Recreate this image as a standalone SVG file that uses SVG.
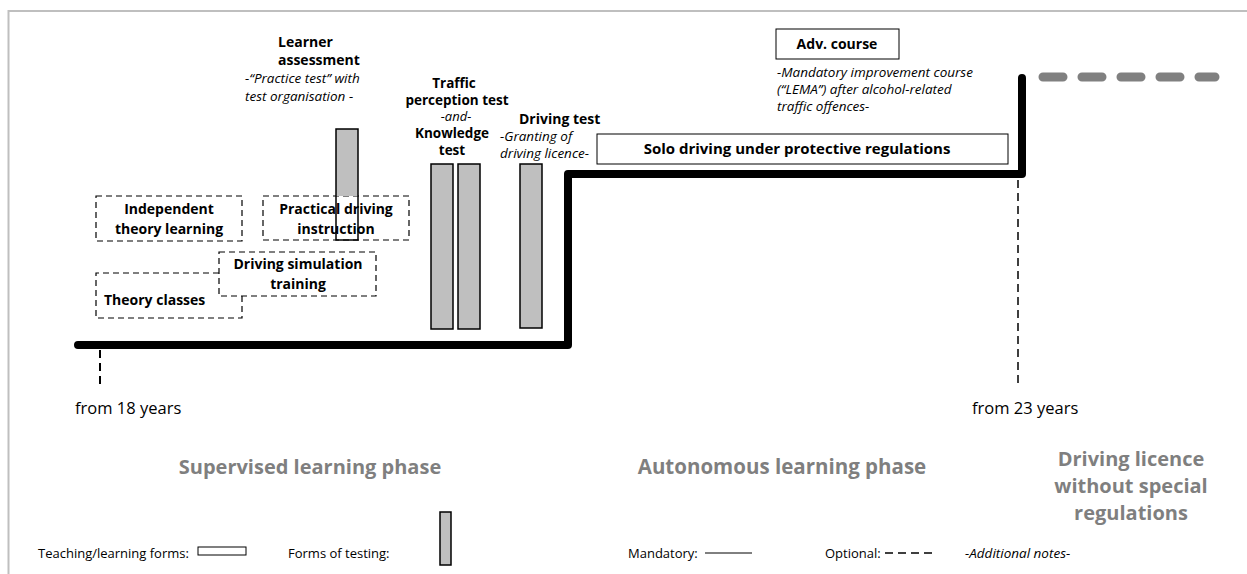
<svg xmlns="http://www.w3.org/2000/svg" width="1247" height="574" viewBox="0 0 1247 574">
<style>
text{font-family:"Open Sans","Noto Sans",sans-serif;fill:#000}
.b{font-weight:bold;font-size:14px}
.i{font-style:italic;font-size:13.5px}
.n{font-size:13px}
.age{font-size:16.5px}
.ph{font-weight:bold;font-size:20px;fill:#7f7f7f}
.opt{fill:none;stroke:#000;stroke-width:1.2;stroke-dasharray:6 4}
.test{fill:#bfbfbf;stroke:#000;stroke-width:1.5}
.teach{fill:#fff;stroke:#000;stroke-width:1}
</style>
<rect width="1247" height="574" fill="#fff"/>
<path d="M8.5 574 V11 H1247" fill="none" stroke="#bfbfbf" stroke-width="2"/>

<g id="connectors">
<path d="M78 345 H568 V174 H1022 V78" fill="none" stroke="#000" stroke-width="8" stroke-linejoin="round" stroke-linecap="round"/>
<path d="M1043 77 H1215" fill="none" stroke="#808080" stroke-width="9" stroke-linecap="round" stroke-dasharray="20 19"/>
<path d="M100 350 V388" stroke="#000" stroke-width="2" stroke-dasharray="8 5"/>
<path d="M1018 180 V386" stroke="#000" stroke-width="1.5" stroke-dasharray="8 5"/>
</g>

<g id="independent-theory">
<rect x="96" y="196" width="146" height="45" class="opt" stroke-dasharray="5 4"/>
<text class="b" x="169" y="214" text-anchor="middle">Independent</text>
<text class="b" x="169" y="234" text-anchor="middle">theory learning</text>
</g>
<g id="theory-classes">
<path d="M219 273 H96 V318 H242 V296" class="opt"/>
<text class="b" x="104" y="305">Theory classes</text>
</g>
<g id="simulation">
<rect x="219" y="252" width="157" height="44" class="opt"/>
<text class="b" x="298" y="269" text-anchor="middle">Driving simulation</text>
<text class="b" x="298" y="289" text-anchor="middle">training</text>
</g>
<g id="practical">
<rect x="263" y="196" width="146" height="44" class="opt" stroke-dasharray="9 5"/>
<text class="b" x="336" y="214" text-anchor="middle">Practical driving</text>
<text class="b" x="336" y="234" text-anchor="middle">instruction</text>
</g>

<g id="learner-assessment">
<rect x="336" y="129" width="22" height="67" fill="#bfbfbf"/>
<rect x="336" y="129" width="22" height="111" fill="none" stroke="#000" stroke-width="1.5"/>
<text class="b" x="278" y="47">Learner</text>
<text class="b" x="278" y="65">assessment</text>
<text class="i" x="245" y="83">-“Practice test” with</text>
<text class="i" x="245" y="101">test organisation -</text>
</g>

<g id="traffic-knowledge" style="font-size:13.5px">
<rect x="431" y="164" width="22" height="165" class="test"/>
<rect x="458" y="164" width="22" height="165" class="test"/>
<text class="b" x="454" y="88" text-anchor="middle" style="font-size:13.5px">Traffic</text>
<text class="b" x="457" y="105" text-anchor="middle" style="font-size:13.5px">perception test</text>
<text class="i" x="456" y="121" text-anchor="middle" style="font-size:13px">-and-</text>
<text class="b" x="452" y="138" text-anchor="middle" style="font-size:13.5px">Knowledge</text>
<text class="b" x="452" y="155" text-anchor="middle" style="font-size:13.5px">test</text>
</g>

<g id="driving-test">
<rect x="520" y="164" width="22" height="164" class="test"/>
<text class="b" x="519" y="124">Driving test</text>
<text class="i" x="500" y="141">-Granting of</text>
<text class="i" x="500" y="158">driving licence-</text>
</g>

<g id="solo-driving">
<rect x="597" y="134" width="411" height="30" class="teach" stroke="#555"/>
<text class="b" x="797" y="154" text-anchor="middle" style="font-size:15px">Solo driving under protective regulations</text>
</g>

<g id="adv-course">
<rect x="776" y="29" width="123" height="30" class="teach" stroke-width="1.5"/>
<text class="b" x="837" y="49" text-anchor="middle">Adv. course</text>
<text class="i" x="777" y="77">-Mandatory improvement course</text>
<text class="i" x="777" y="94">(“LEMA”) after alcohol-related</text>
<text class="i" x="777" y="111">traffic offences-</text>
</g>

<g id="ages">
<text class="age" x="75" y="414">from 18 years</text>
<text class="age" x="972" y="414">from 23 years</text>
</g>

<g id="phases">
<text class="ph" x="310" y="474" text-anchor="middle">Supervised learning phase</text>
<text class="ph" x="782" y="474" text-anchor="middle" style="font-size:20.5px">Autonomous learning phase</text>
<text class="ph" x="1131" y="466" text-anchor="middle">Driving licence</text>
<text class="ph" x="1131" y="493" text-anchor="middle">without special</text>
<text class="ph" x="1131" y="520" text-anchor="middle">regulations</text>
</g>

<g id="legend">
<text class="n" x="38" y="558">Teaching/learning forms:</text>
<rect x="198" y="547" width="48" height="8" class="teach"/>
<text class="n" x="288" y="558">Forms of testing:</text>
<rect x="440" y="512" width="11" height="53" class="test" stroke-width="1"/>
<text class="n" x="628" y="558">Mandatory:</text>
<path d="M705 553 H752" stroke="#000" stroke-width="1"/>
<text class="n" x="825" y="558">Optional:</text>
<path d="M885 553 H936" stroke="#000" stroke-width="1.5" stroke-dasharray="8 5"/>
<text class="i" x="965" y="558">-Additional notes-</text>
</g>
</svg>
